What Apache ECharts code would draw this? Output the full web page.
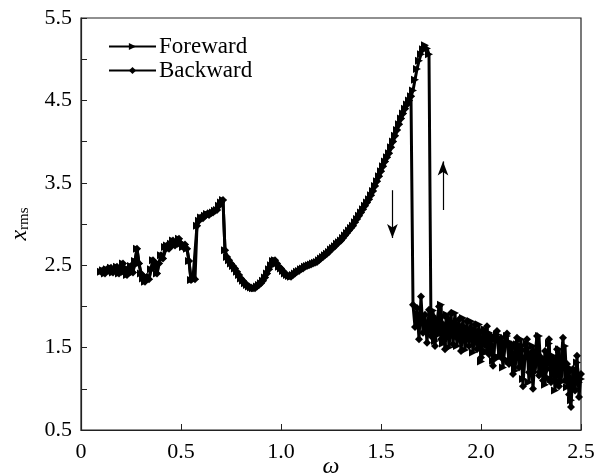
<!DOCTYPE html>
<html><head><meta charset="utf-8">
<script src="https://cdn.jsdelivr.net/npm/echarts@6/dist/echarts.min.js"></script>
<style>html,body{margin:0;padding:0;background:#fff}#c{width:603px;height:475px}</style>
</head><body><div id="c"></div>
<script>
// omega grid: 0.10 .. 2.50, step 0.01
const omegaStart = 0.10, omegaStep = 0.01;

// Shared upper branch (0.10 .. 1.65)
const commonUpper = [
 2.42,2.44,2.40,2.45,2.43,2.47,2.41,2.44,2.48,2.40, // 0.10-0.19
 2.46,2.52,2.42,2.38,2.45,2.49,2.41,2.55,2.70,2.52, // 0.20-0.29
 2.40,2.34,2.30,2.36,2.33,2.45,2.56,2.48,2.40,2.52, // 0.30-0.39
 2.62,2.58,2.72,2.74,2.70,2.76,2.80,2.74,2.77,2.82, // 0.40-0.49
 2.76,2.72,2.75,2.70,2.55,2.32,2.35,2.33,2.98,3.04, // 0.50-0.59
 3.08,3.07,3.10,3.12,3.11,3.13,3.14,3.16,3.17,3.22, // 0.60-0.69
 3.26,3.29,2.68,2.60,2.56,2.52,2.49,2.46,2.42,2.38, // 0.70-0.79
 2.34,2.31,2.28,2.26,2.24,2.23,2.22,2.22,2.24,2.26, // 0.80-0.89
 2.28,2.31,2.35,2.40,2.45,2.50,2.55,2.56,2.52,2.48, // 0.90-0.99
 2.46,2.43,2.40,2.38,2.37,2.36,2.38,2.40,2.42,2.43, // 1.00-1.09
 2.45,2.46,2.48,2.49,2.50,2.51,2.52,2.53,2.54,2.56, // 1.10-1.19
 2.58,2.60,2.62,2.64,2.66,2.69,2.71,2.73,2.76,2.78, // 1.20-1.29
 2.80,2.83,2.86,2.89,2.92,2.95,2.98,3.02,3.06,3.10, // 1.30-1.39
 3.14,3.18,3.22,3.26,3.30,3.35,3.40,3.46,3.52,3.58, // 1.40-1.49
 3.64,3.70,3.76,3.81,3.86,3.93,4.00,4.07,4.14,4.21, // 1.50-1.59
 4.28,4.34,4.40,4.45,4.50,4.55                      // 1.60-1.65
];
// Forward continues on the upper branch 1.66 .. 1.74, then drops
const forwardPeak = [4.62,4.75,4.88,4.98,5.06,5.12,5.17,5.13,5.06];
// Forward lower branch 1.75 .. 2.50
const forwardLower = [
 1.70,1.95,1.58,1.84,1.66,2.02,1.55,1.76,1.90,1.50, // 1.75-1.84
 1.80,1.64,1.92,1.52,1.78,1.60,1.86,1.47,1.74,1.62, // 1.85-1.94
 1.82,1.44,1.72,1.56,1.78,1.33,1.62,1.72,1.45,1.68, // 1.95-2.04
 1.50,1.34,1.60,1.66,1.38,1.58,1.26,1.52,1.64,1.34, // 2.05-2.14
 1.56,1.42,1.22,1.54,1.38,1.60,1.12,1.38,1.55,1.08, // 2.15-2.24
 1.35,1.52,1.20,1.42,1.64,1.18,1.36,1.05,1.30,1.55, // 2.25-2.34
 1.12,1.40,0.98,1.28,1.48,1.08,1.34,1.52,1.02,1.26, // 2.35-2.44
 0.86,1.22,1.00,1.32,1.08,1.12                      // 2.45-2.50
];
// Backward lower branch 1.66 .. 2.50
const backwardLower = [
 2.02,1.75,1.98,1.60,2.12,1.68,1.90,1.56,1.96,1.64, // 1.66-1.75
 1.88,1.52,1.82,2.00,1.60,1.78,1.48,1.86,1.66,1.92, // 1.76-1.85
 1.54,1.80,1.62,1.84,1.46,1.74,1.58,1.82,1.52,1.72, // 1.86-1.95
 1.60,1.78,1.48,1.70,1.38,1.68,1.53,1.76,1.42,1.64, // 1.96-2.05
 1.28,1.60,1.70,1.40,1.62,1.36,1.57,1.67,1.30,1.54, // 2.06-2.15
 1.18,1.50,1.62,1.26,1.52,1.03,1.47,1.60,1.20,1.44, // 2.16-2.25
 1.00,1.42,1.64,1.16,1.38,1.10,1.46,1.24,1.60,1.08, // 2.26-2.35
 1.36,1.18,1.48,1.03,1.32,1.62,1.10,1.30,0.93,0.78, // 2.36-2.45
 1.24,0.98,1.40,0.90,1.18                           // 2.46-2.50
];
// Arrow annotations [omega start, x start, omega end, x end]
const arrowDown = [1.557, 3.41, 1.557, 2.83];
const arrowUp = [1.81, 3.17, 1.81, 3.76];

const xTicks = ['0','0.5','1.0','1.5','2.0','2.5'];

function pairs(vals, startIdx) {
  return vals.map((v, i) => [+(omegaStart + (startIdx + i) * omegaStep).toFixed(2), v]);
}
const fwdVals = commonUpper.concat(forwardPeak, forwardLower);
const bwdVals = commonUpper.concat(backwardLower);
const fwdData = pairs(fwdVals, 0);
const bwdData = pairs(bwdVals, 0).reverse();

const FONT = '"Liberation Serif", "Times New Roman", serif';
const chart = echarts.init(document.getElementById('c'), null, {renderer: 'canvas'});
chart.setOption({
  animation: false,
  backgroundColor: '#fff',
  grid: {left: 81, right: 22, top: 18, bottom: 45, show: true, borderColor: '#222', borderWidth: 1.2,
         containLabel: false, outerBoundsMode: 'none'},
  legend: {
    orient: 'vertical', left: 103, top: 30, itemWidth: 47, itemHeight: 9, itemGap: 1,
    textStyle: {fontFamily: FONT, fontSize: 23, color: '#000', padding: [0,0,0,-2]},
    data: [{name: 'Foreward'}, {name: 'Backward'}],
    symbolRotate: 'inherit'
  },
  xAxis: {
    type: 'value', min: 0, max: 2.5, interval: 0.5,
    name: 'ω', nameLocation: 'middle', nameGap: 37, nameMoveOverlap: false,
    nameTextStyle: {fontFamily: FONT, fontSize: 24, fontStyle: 'italic', color: '#000', verticalAlign: 'middle'},
    axisLine: {lineStyle: {color: '#222', width: 1.2}},
    axisTick: {inside: true, length: 6, lineStyle: {color: '#222'}},
    axisLabel: {fontFamily: FONT, fontSize: 22, color: '#000', margin: 11,
      formatter: v => xTicks[Math.round(v / 0.5)]},
    splitLine: {show: false}
  },
  yAxis: {
    type: 'value', min: 0.5, max: 5.5, interval: 0.5,
    name: '{x|x}{s|rms}', nameLocation: 'middle', nameGap: 49, nameRotate: 90, nameMoveOverlap: false,
    nameTextStyle: {rich: {
      x: {fontFamily: FONT, fontSize: 24, fontStyle: 'italic', color: '#000'},
      s: {fontFamily: FONT, fontSize: 15, color: '#000', padding: [10,0,0,0]}
    }},
    axisLine: {show: true, lineStyle: {color: '#222', width: 1.2}},
    axisTick: {inside: true, length: 6, lineStyle: {color: '#222'}},
    axisLabel: {fontFamily: FONT, fontSize: 22, color: '#000', margin: 9,
      formatter: v => (Math.abs(((v - 0.5) % 1)) < 1e-6 ? v.toFixed(1) : '')},
    splitLine: {show: false}
  },
  series: [
    {name: 'Foreward', type: 'line', data: fwdData, symbol: 'triangle', symbolRotate: -90, symbolSize: 8,
     showAllSymbol: true, itemStyle: {color: '#000'}, lineStyle: {color: '#000', width: 3}},
    {name: 'Backward', type: 'line', data: bwdData, symbol: 'diamond', symbolSize: 8,
     showAllSymbol: true, itemStyle: {color: '#000'}, lineStyle: {color: '#000', width: 3},
     markLine: {silent: true, symbol: ['none', 'arrow'], symbolSize: [8, 14], label: {show: false},
       lineStyle: {color: '#000', width: 1.2, type: 'solid'},
       data: [
         [{coord: [arrowDown[0], arrowDown[1]]}, {coord: [arrowDown[2], arrowDown[3]]}],
         [{coord: [arrowUp[0], arrowUp[1]]}, {coord: [arrowUp[2], arrowUp[3]]}]
       ]}}
  ]
});
</script></body></html>
